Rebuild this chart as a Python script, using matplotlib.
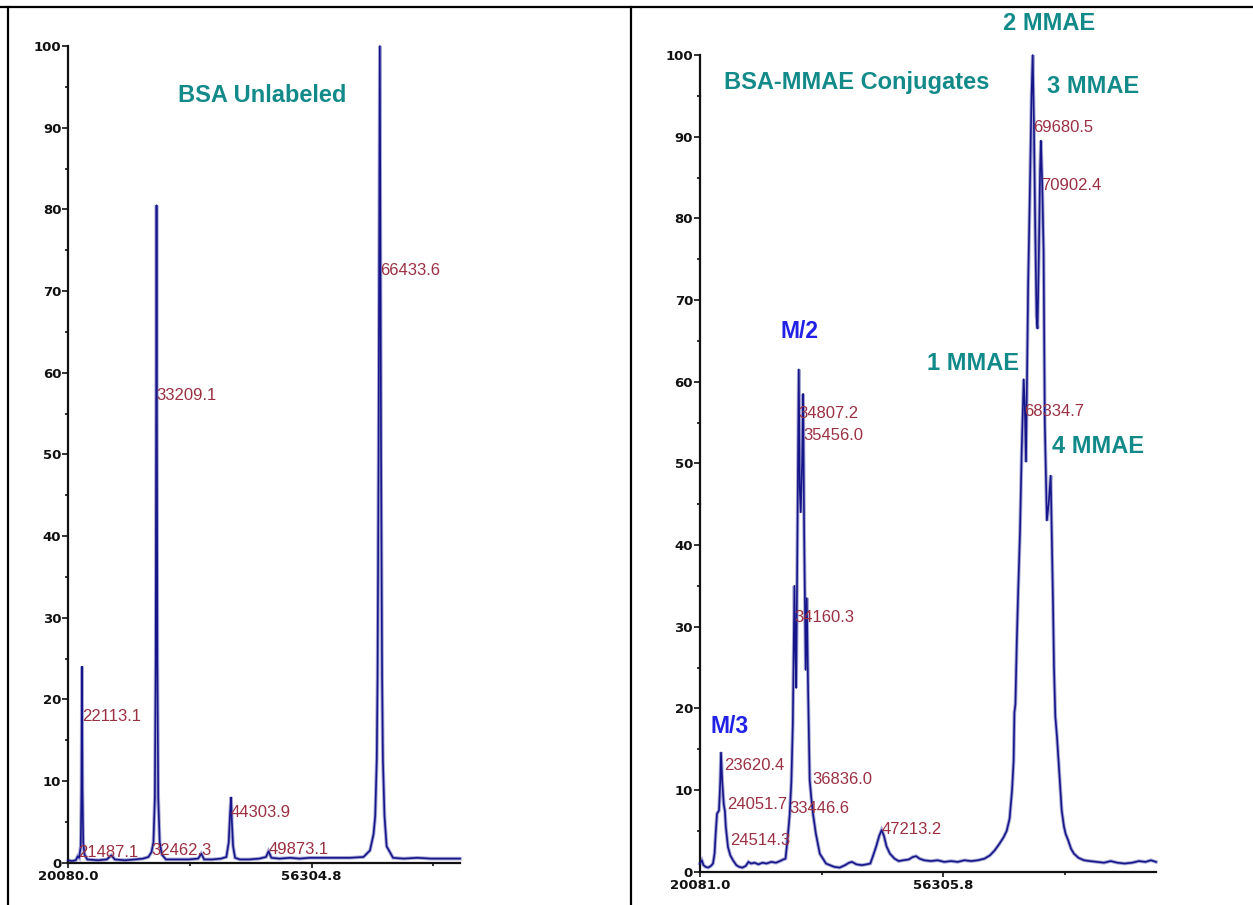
import matplotlib
matplotlib.use('Agg')
import matplotlib.pyplot as plt
from matplotlib.lines import Line2D

# ---------------- data (mass in Da, relative intensity %) ----------------
left_spectrum = [
    (20080, 0.3), (20600, 0.2), (21200, 0.3), (21487, 0.8), (21700, 0.6), (21930, 2.0),
    (22040, 9.0), (22113, 24.0), (22190, 9.0), (22300, 2.5), (22500, 1.0), (22900, 0.4),
    (24500, 0.3), (25800, 0.4), (26480, 0.9), (27000, 0.4), (28500, 0.3), (30000, 0.4),
    (31200, 0.5), (32000, 0.7), (32462, 1.3), (32750, 2.5), (32960, 8.0), (33090, 25.0),
    (33209, 80.5), (33330, 25.0), (33460, 8.0), (33680, 2.5), (34000, 1.0), (34600, 0.4),
    (36500, 0.4), (38000, 0.4), (39400, 0.5), (39870, 1.1), (40300, 0.4), (41500, 0.4),
    (42800, 0.5), (43600, 0.7), (43950, 2.5), (44150, 6.0), (44304, 8.0), (44420, 5.0),
    (44600, 2.0), (44900, 0.6), (45600, 0.4), (47000, 0.4), (48500, 0.5), (49500, 0.7),
    (49873, 1.4), (50300, 0.6), (51500, 0.5), (53110, 0.6), (54500, 0.5), (56000, 0.6),
    (58000, 0.6), (60000, 0.6), (62000, 0.6), (64000, 0.7), (64970, 1.5), (65500, 3.5),
    (65750, 5.7), (65980, 12.7), (66100, 23.0), (66250, 50.0), (66433, 100.0), (66620, 50.0),
    (66770, 23.0), (66890, 12.7), (67130, 5.7), (67450, 2.0), (68400, 0.6), (70000, 0.5),
    (72000, 0.6), (74000, 0.5), (76000, 0.5), (78365, 0.5),
]

right_spectrum = [
    (20081, 1.0), (20350, 1.4), (20600, 0.8), (20900, 0.6), (21300, 0.5), (21700, 0.7),
    (22019, 1.0), (22250, 2.2), (22421, 4.7), (22615, 7.1), (22913, 7.5), (23100, 11.0),
    (23211, 14.6), (23400, 11.0), (23629, 8.2), (23800, 7.4), (23927, 5.5), (24255, 3.0),
    (24600, 2.0), (25000, 1.4), (25500, 0.8), (25894, 0.6), (26400, 0.5), (26900, 0.7),
    (27300, 1.2), (27700, 1.0), (28200, 1.1), (28800, 0.9), (29400, 1.1), (30000, 1.0),
    (30700, 1.2), (31400, 1.1), (32000, 1.3), (32500, 1.5), (32830, 1.6), (33125, 3.9),
    (33440, 6.9), (33700, 11.0), (33915, 18.0), (34160, 35.0), (34300, 27.0), (34420, 22.5),
    (34600, 40.0), (34807, 61.5), (34950, 47.0), (35100, 44.0), (35300, 50.0), (35456, 58.5),
    (35600, 42.0), (35837, 24.7), (36000, 33.5), (36200, 22.0), (36434, 11.2), (36700, 8.8),
    (36926, 7.1), (37343, 4.7), (37940, 2.2), (38865, 1.0), (40056, 0.6), (40900, 0.5),
    (41700, 0.8), (42300, 1.1), (42740, 1.2), (43400, 0.9), (44231, 0.8), (44900, 0.9),
    (45468, 1.0), (45900, 2.0), (46347, 3.1), (46800, 4.4), (47152, 5.1), (47500, 4.4),
    (47883, 3.1), (48400, 2.2), (49076, 1.6), (49700, 1.3), (50400, 1.4), (51200, 1.5),
    (51800, 1.8), (52300, 1.9), (52800, 1.6), (53500, 1.4), (54500, 1.3), (55500, 1.4),
    (56500, 1.2), (57500, 1.3), (58500, 1.2), (59500, 1.4), (60500, 1.3), (61500, 1.4),
    (62500, 1.6), (63300, 2.0), (64000, 2.6), (64700, 3.4), (65323, 4.2), (65800, 5.0),
    (66232, 6.5), (66600, 10.0), (66829, 13.5), (66950, 19.5), (67100, 20.5), (67300, 28.0),
    (67500, 34.0), (67783, 41.6), (68050, 52.0), (68334, 60.3), (68500, 57.0), (68676, 50.2),
    (68850, 62.0), (69000, 72.0), (69250, 83.0), (69500, 95.0), (69680, 100.0), (69850, 92.0),
    (70050, 79.0), (70250, 68.0), (70393, 66.5), (70600, 76.0), (70780, 86.0), (70902, 89.5),
    (71100, 84.0), (71300, 76.0), (71480, 55.0), (71788, 43.0), (72050, 45.0), (72360, 48.5),
    (72550, 40.0), (72702, 33.0), (72851, 25.0), (73050, 19.0), (73298, 16.5), (73500, 14.0),
    (73745, 10.8), (74000, 7.5), (74342, 5.5), (74600, 4.6), (74938, 3.9), (75400, 2.8),
    (75832, 2.2), (76500, 1.7), (77323, 1.4), (78200, 1.3), (79200, 1.2), (80300, 1.1),
    (81300, 1.3), (82300, 1.1), (83375, 1.0), (84500, 1.1), (85500, 1.3), (86500, 1.2),
    (87300, 1.4), (88057, 1.2),
]

# peak annotation labels: (mass value, y position of label)
left_peak_labels = [
    ("21487.1", 21487.1, 1.2), ("22113.1", 22113.1, 17.9), ("32462.3", 32462.3, 1.5),
    ("33209.1", 33209.1, 57.2), ("44303.9", 44303.9, 6.1), ("49873.1", 49873.1, 1.6),
    ("66433.6", 66433.6, 72.5),
]
right_peak_labels = [
    ("23620.4", 23620.4, 13.0), ("24051.7", 24051.7, 8.2), ("24514.3", 24514.3, 3.8),
    ("33446.6", 33446.6, 7.7), ("34160.3", 34160.3, 31.1), ("34807.2", 34807.2, 56.1),
    ("35456.0", 35456.0, 53.4), ("36836.0", 36836.0, 11.3), ("47213.2", 47213.2, 5.2),
    ("68334.7", 68334.7, 56.4), ("69680.5", 69680.5, 91.1), ("70902.4", 70902.4, 84.0),
]

# species annotations: (text, x, y, colour)
left_titles = [("BSA Unlabeled", 48900, 94.0, "#138a8a")]
right_titles = [
    ("BSA-MMAE Conjugates", 43410, 96.6, "#138a8a"),
    ("2 MMAE", 72100, 103.8, "#138a8a"),
    ("3 MMAE", 78660, 96.2, "#138a8a"),
    ("1 MMAE", 60850, 62.2, "#138a8a"),
    ("4 MMAE", 79480, 52.1, "#138a8a"),
    ("M/2", 34840, 66.2, "#2222e6"),
    ("M/3", 24550, 17.8, "#2222e6"),
]

left_xrange = (20080.0, 78365.0)
right_xrange = (20081.0, 88057.0)
left_xmajor = [20080.0, 56304.8]
left_xminor = [38192.4, 74417.2]
right_xmajor = [20081.0, 56305.8]
right_xminor = [38193.4, 74418.2]
y_major = list(range(0, 101, 10))
y_minor = list(range(5, 100, 10))

# ---------------- figure ----------------
W, H = 1253, 905
fig = plt.figure(figsize=(W / 100, H / 100), dpi=100)
fig.patch.set_facecolor('white')

axL = fig.add_axes([68.3 / W, (H - 862.7) / H, (460 - 68.3) / W, 816.7 / H])
axR = fig.add_axes([700 / W, (H - 871.7) / H, 456 / W, 816.7 / H])

LABEL_COL = "#9a3042"
LINE_DARK = "#16168a"
LINE_LIGHT = "#a9a9d6"


def style(ax, xr, xmaj, xmin):
    ax.set_facecolor('none')
    ax.set_xlim(*xr)
    ax.set_ylim(0, 100)
    for s in ('top', 'right'):
        ax.spines[s].set_visible(False)
    for s in ('left', 'bottom'):
        ax.spines[s].set_linewidth(1.6)
        ax.spines[s].set_color('#111111')
    ax.set_yticks(y_major)
    ax.set_yticks(y_minor, minor=True)
    ax.set_xticks(xmaj)
    ax.set_xticklabels([f"{v:.1f}" for v in xmaj])
    ax.set_xticks(xmin, minor=True)
    ax.tick_params(axis='y', which='major', length=4.5, width=1.2, pad=0.5,
                   labelsize=9.5, colors='#111111')
    ax.tick_params(axis='y', which='minor', length=2.5, width=1.2, colors='#111111')
    ax.tick_params(axis='x', which='major', length=3.6, width=1.2, pad=2.0,
                   labelsize=9.5, colors='#111111')
    ax.tick_params(axis='x', which='minor', length=2.2, width=1.2, colors='#111111')
    for lab in ax.get_xticklabels() + ax.get_yticklabels():
        lab.set_family('DejaVu Sans')
        lab.set_fontweight('bold')


def draw(ax, spectrum, peak_labels, titles, title_size):
    xs = [p[0] for p in spectrum]
    ys = [p[1] for p in spectrum]
    ax.plot(xs, ys, color=LINE_LIGHT, lw=2.6, solid_joinstyle='miter', clip_on=False, zorder=2)
    ax.plot(xs, ys, color=LINE_DARK, lw=1.2, clip_on=False, zorder=3)
    for txt, x, y in peak_labels:
        ax.text(x, y, txt, color=LABEL_COL, fontsize=12, family='Liberation Sans',
                ha='left', va='center', clip_on=False, zorder=4)
    for txt, x, y, c in titles:
        fs = 16.5 if txt.startswith('M/') else title_size
        ax.text(x, y, txt, color=c, fontsize=fs, family='Liberation Sans',
                fontweight='bold', ha='center', va='center', clip_on=False, zorder=4)


style(axL, left_xrange, left_xmajor, left_xminor)
style(axR, right_xrange, right_xmajor, right_xminor)
draw(axL, left_spectrum, left_peak_labels, left_titles, 17)
draw(axR, right_spectrum, right_peak_labels, right_titles, 17)

# table borders
ytop = 1 - 7 / H
fig.add_artist(Line2D([0, 1], [ytop, ytop], transform=fig.transFigure, color='black', lw=1.6))
fig.add_artist(Line2D([8 / W, 8 / W], [0, ytop], transform=fig.transFigure, color='black', lw=1.6))
fig.add_artist(Line2D([631 / W, 631 / W], [0, ytop], transform=fig.transFigure, color='black', lw=1.6))

fig.savefig('out.png', dpi=100, facecolor='white')
